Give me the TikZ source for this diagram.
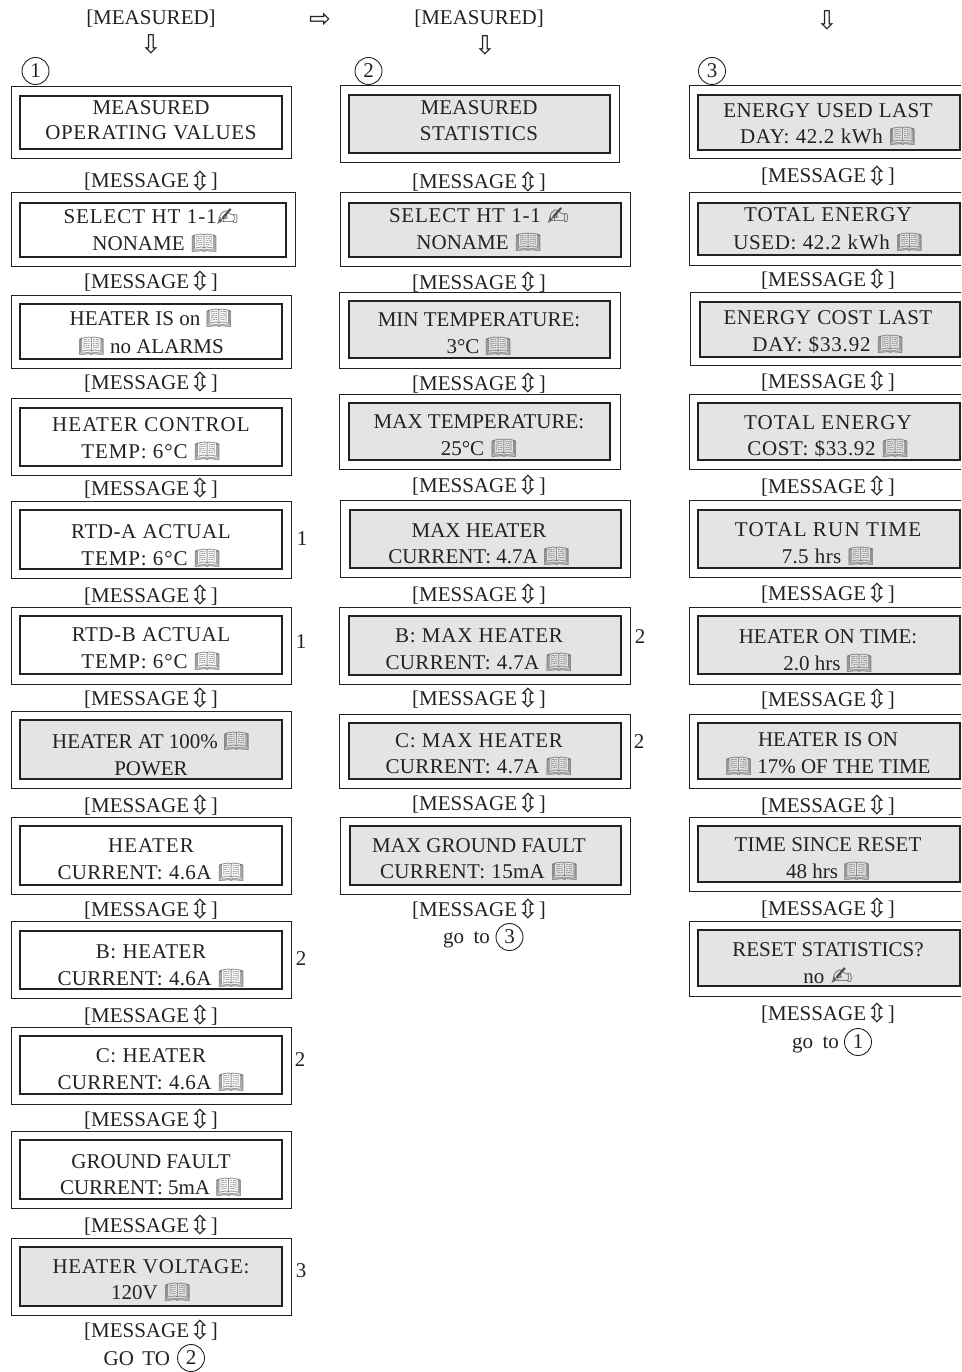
\documentclass[tikz,border=0pt]{standalone}
\usepackage{fontspec}
\setmainfont{Liberation Serif}
\newfontfamily\djfont{DejaVu Sans}
\newfontfamily\emfont{Noto Emoji}
\definecolor{panel}{HTML}{E4E4E4}
\definecolor{ink}{HTML}{222222}
\newcommand{\bk}{{\emfont\fontsize{21}{21}\selectfont\textcolor{black!55}{\symbol{"1F4D6}}}}
\newcommand{\hd}{\raisebox{-2pt}{\djfont\fontsize{26}{26}\selectfont\textcolor{black!70}{\symbol{"270D}}}}
\newcommand{\ud}{\raisebox{-2.5pt}{\djfont\fontsize{26}{26}\selectfont\symbol{"21F3}}}
\newcommand{\ws}{\hspace{.3em}}
\newcommand{\LS}[2]{{\addfontfeature{LetterSpace=#1}#2}}
\newcommand{\msg}{[MESSAGE\ud]}
\tikzset{
  outerbox/.style={draw=ink,line width=1pt,inner sep=0pt,outer sep=0pt,fill=white},
  innerbox/.style={draw=ink,line width=1.15pt,inner sep=0pt,outer sep=0pt},
  txt/.style={inner sep=0pt,outer sep=0pt,anchor=base,text=ink,font=\fontsize{21}{21}\selectfont},
  ring/.style={draw=ink,line width=.9pt,circle,minimum size=27pt,inner sep=0pt,text=ink,font=\fontsize{21}{21}\selectfont},
  arrowglyph/.style={inner sep=0pt,text=ink,font=\djfont\fontsize{26}{26}\selectfont},
  white panel/.style={fill=white},
  gray panel/.style={fill=panel}
}
\begin{document}
\begin{tikzpicture}[x=1pt,y=-1pt]
\useasboundingbox (0,0) rectangle (961,1372);
\clip (0,0) rectangle (961,1372);
\foreach \nm/\st/\ox/\oy/\oX/\oY/\ix/\iy/\iX/\iY/\cx/\ta/\tb/\ba/\bb in {
 a1/white panel/11/87/291/159/20/96/282/149/151/\LS{1}{MEASURED}/\LS{3}{OPERATING\ws VALUES}/115/140,
 a2/white panel/11/193/295/266/20/203/286/257/151/\LS{4.5}{SELECT\ws HT\ws 1-1}\hd/\hspace*{8pt}NONAME\ws \bk/224/251,
 a3/white panel/11/295/291/368/20/304/282/359/151/HEATER IS on \bk/\bk{} no ALARMS/325/353,
 a4/white panel/11/398/291/475/20/408/282/466/151/\LS{5}{HEATER\ws CONTROL}/\LS{4}{TEMP:\ws 6°C\ws }\bk/431/458,
 a5/white panel/11/501/291/578/20/510/282/569/151/\LS{2.8}{RTD-A\ws ACTUAL}/\LS{4}{TEMP:\ws 6°C\ws }\bk/538/565,
 a6/white panel/11/607/291/684/20/616/282/674/151/\LS{2.8}{RTD-B\ws ACTUAL}/\LS{4}{TEMP:\ws 6°C\ws }\bk/641/668,
 a7/gray panel/11/711/291/788/20/720/282/779/151/HEATER AT 100\% \bk/POWER/748/775,
 a8/white panel/11/817/291/894/20/826/282/885/151/\LS{5}{HEATER}/\LS{1.6}{CURRENT:\ws 4.6A\ws }\bk/852/879,
 a9/white panel/11/921/291/998/20/931/282/989/151/\LS{3}{B:\ws HEATER}/\LS{1.6}{CURRENT:\ws 4.6A\ws }\bk/958/985,
 a10/white panel/11/1027/291/1104/20/1036/282/1094/151/\LS{3}{C:\ws HEATER}/\LS{1.6}{CURRENT:\ws 4.6A\ws }\bk/1062/1089,
 a11/white panel/11/1131/291/1208/20/1140/282/1199/151/GROUND FAULT/CURRENT: 5mA \bk/1168/1194,
 a12/gray panel/11/1238/291/1315/20/1247/282/1306/151/\LS{3.5}{HEATER\ws VOLTAGE:}/120V\ws \bk/1273/1299,
 b1/gray panel/340/86/619/163/349/95/610/153/479/\LS{1}{MEASURED}/\LS{3}{STATISTICS}/115/141,
 b2/gray panel/340/193/630/266/349/203/621/257/479/\LS{3.7}{SELECT\ws HT\ws 1-1\ws }\hd/NONAME\ws \bk/223/250,
 b3/gray panel/339/292/620/368/349/301/610/358/479/MIN TEMPERATURE:/3°C \bk/326/353,
 b4/gray panel/339/394/620/469/349/403/610/460/479/MAX TEMPERATURE:/25°C\ws \bk/428/455,
 b5/gray panel/340/500/630/577/350/510/621/568/479/MAX HEATER/CURRENT: 4.7A \bk/537/563,
 b6/gray panel/339/607/630/684/349/616/621/675/479/\LS{3.5}{B:\ws MAX\ws HEATER}/\LS{1.5}{CURRENT:\ws 4.7A\ws }\bk/642/669,
 b7/gray panel/339/714/630/788/349/723/621/779/479/\LS{3.5}{C:\ws MAX\ws HEATER}/\LS{1.5}{CURRENT:\ws 4.7A\ws }\bk/747/773,
 b8/gray panel/340/817/630/894/350/826/621/885/479/MAX GROUND FAULT/\LS{1.5}{CURRENT:\ws 15mA\ws }\bk/852/878,
 c1/gray panel/689/86/990/159/698/95/960/150/828/\LS{1.8}{ENERGY\ws USED\ws LAST}/\LS{3}{DAY:\ws 42.2\ws kWh\ws }\bk/118/144,
 c2/gray panel/689/193/990/265/698/203/960/255/828/\LS{5}{TOTAL\ws ENERGY}/\LS{3}{USED:\ws 42.2\ws kWh\ws }\bk/222/249,
 c3/gray panel/690/292/990/365/700/302/960/357/828/\LS{2}{ENERGY\ws COST\ws LAST}/\LS{4}{DAY:\ws \$33.92\ws }\bk/324/351,
 c4/gray panel/689/394/990/469/698/403/960/460/828/\LS{5}{TOTAL\ws ENERGY}/\LS{3}{COST:\ws \$33.92\ws }\bk/429/455,
 c5/gray panel/689/500/990/577/698/510/960/568/828/\LS{6}{TOTAL\ws RUN\ws TIME}/\LS{1.5}{7.5\ws hrs\ws }\bk/536/563,
 c6/gray panel/689/607/990/684/698/616/960/674/828/HEATER ON TIME:/2.0 hrs \bk/643/670,
 c7/gray panel/689/714/990/788/698/723/960/779/828/HEATER IS ON/\bk{} 17\% OF THE TIME/746/773,
 c8/gray panel/689/817/990/891/698/826/960/882/828/TIME SINCE RESET/48 hrs \bk/851/878,
 c9/gray panel/689/921/990/996/698/930/960/986/828/RESET STATISTICS?/no\ws \hd/956/983%
}{
  \pgfmathsetmacro\ow{\oX-\ox}\pgfmathsetmacro\oh{\oY-\oy}
  \pgfmathsetmacro\iw{\iX-\ix}\pgfmathsetmacro\ih{\iY-\iy}
  \pgfmathsetmacro\ocx{(\ox+\oX)/2}\pgfmathsetmacro\ocy{(\oy+\oY)/2}
  \pgfmathsetmacro\icx{(\ix+\iX)/2}\pgfmathsetmacro\icy{(\iy+\iY)/2}
  \node[outerbox,minimum width=\ow pt,minimum height=\oh pt] (\nm) at (\ocx,\ocy) {};
  \node[innerbox,\st,minimum width=\iw pt,minimum height=\ih pt] (\nm-in) at (\icx,\icy) {};
  \node[txt] (\nm-a) at (\cx,\ba) {\ta};
  \node[txt] (\nm-b) at (\cx,\bb) {\tb};
}
\foreach \i/\x/\y in {1/151/188,2/151/288,3/151/389,4/151/495,5/151/602,6/151/705,7/151/812,8/151/916,9/151/1022,10/151/1126,11/151/1232,12/151/1337,
  13/479/189,14/479/289,15/479/390,16/479/492,17/479/601,18/479/705,19/479/810,20/479/916,
  21/828/183,22/828/286,23/828/388,24/828/493,25/828/600,26/828/706,27/828/812,28/828/915,29/828/1020}{
  \node[txt] (m\i) at (\x,\y) {\msg};
}
\node[txt] (headA) at (151,25) {[MEASURED]};
\node[txt] (headB) at (479,25) {[MEASURED]};
\node[arrowglyph] (downA) at (151,44) {\symbol{"21E9}};
\node[arrowglyph] (downB) at (485,45) {\symbol{"21E9}};
\node[arrowglyph] (downC) at (827,20) {\symbol{"21E9}};
\node[arrowglyph] (rightA) at (320,20) {\symbol{"21E8}};
\node[ring] (r1) at (35.5,71) {1};
\node[ring] (r2) at (368.5,71) {2};
\node[ring] (r3) at (712,71) {3};
\node[txt,anchor=base east] (goA) at (170,1365) {GO\ws\hspace{.1em}TO};
\node[ring] (goAr) at (191,1358) {2};
\node[txt,anchor=base east] (goB) at (490,943) {go\ws\hspace{.15em}to};
\node[ring] (goBr) at (509.5,937) {3};
\node[txt,anchor=base east] (goC) at (839,1048) {go\ws\hspace{.15em}to};
\node[ring] (goCr) at (858,1042) {1};
\foreach \i/\x/\y/\tx in {1/302/545/1,2/301/648/1,3/301/965/2,4/300/1066/2,5/301/1277/3,6/640/643/2,7/639/748/2}{
  \node[txt] (note\i) at (\x,\y) {\tx};
}
\end{tikzpicture}
\end{document}
